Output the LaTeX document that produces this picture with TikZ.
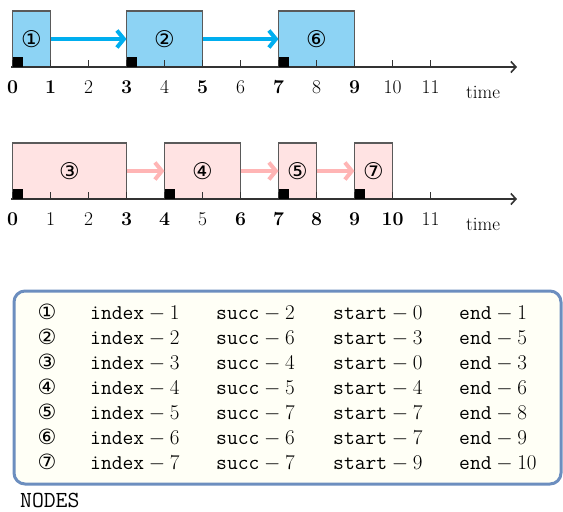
\RequirePackage{fix-cm}
\documentclass[tikz,border=0pt]{standalone}
\usepackage{fontspec}
\newfontfamily\circfont{DejaVu Sans}
\usetikzlibrary{arrows.meta}
\definecolor{boxblue}{HTML}{8DD3F4}
\definecolor{arrblue}{HTML}{00AEEF}
\definecolor{boxpink}{HTML}{FFE3E3}
\definecolor{arrpink}{HTML}{FFB5B5}
\definecolor{edgegray}{HTML}{5A5A5A}
\definecolor{axisgray}{HTML}{333333}
\definecolor{panelblue}{HTML}{6C8EBF}
\definecolor{panelfill}{HTML}{FFFFF6}
\tikzset{
  job/.style={draw=edgegray, line width=1.8pt, inner sep=0pt, outer sep=0pt,
    anchor=south west, minimum height=56pt, minimum width=#1*38pt,
    font=\circfont\fontsize{23}{26}\selectfont},
  bluejob/.style={job=#1, fill=boxblue},
  pinkjob/.style={job=#1, fill=boxpink},
  bluearr/.style={draw=arrblue, line width=4pt, -{Straight Barb[length=7pt,width=17pt]}},
  pinkarr/.style={draw=arrpink, line width=4pt, -{Straight Barb[length=7pt,width=17pt]}},
  axisline/.style={draw=axisgray, line width=1.6pt, -{Straight Barb[length=5pt,width=11pt]}},
  tickmark/.style={draw=axisgray, line width=1.6pt},
  startmark/.style={fill=black},
  tlabel/.style={anchor=base, inner sep=0pt, font=\fontsize{19.5}{23}\selectfont},
  timelabel/.style={anchor=base west, inner sep=0pt, font=\fontsize{19}{23}\selectfont},
  panel/.style={draw=panelblue, fill=panelfill, line width=3pt, rounded corners=11pt,
    minimum width=547pt, minimum height=193pt, inner sep=0pt},
  cell/.style={anchor=base west, inner sep=0pt, font=\fontsize{21}{25}\selectfont},
  circcell/.style={anchor=center, inner sep=0pt, font=\circfont\fontsize{21}{24}\selectfont},
  caption/.style={anchor=base west, inner sep=0pt, font=\ttfamily\fontsize{23}{26}\selectfont},
}
\begin{document}
\begin{tikzpicture}[x=1pt,y=-1pt]
\useasboundingbox (0,0) rectangle (563,512);
% ---------- top timeline ----------
\node[bluejob=1] (b1) at ({12.5+38*0},67) {①};
\node[bluejob=2] (b2) at ({12.5+38*3},67) {②};
\node[bluejob=2] (b6) at ({12.5+38*7},67) {⑥};
\draw[bluearr] (b1.east) -- (b2.west);
\draw[bluearr] (b2.east) -- (b6.west);
\coordinate (axAs) at (11,67);
\coordinate (axAe) at (517,67);
\draw[axisline] (axAs) -- (axAe);
\foreach \t in {0,...,11} \draw[tickmark] ({12.5+38*\t},67) -- ++(0,-7);
\foreach \b in {b1,b2,b6} \fill[startmark] (\b.south west) rectangle ++(10.5,-10);
\foreach \t/\w in {0/\bfseries,1/\bfseries,2/\mdseries,3/\bfseries,4/\mdseries,5/\bfseries,
                   6/\mdseries,7/\bfseries,8/\mdseries,9/\bfseries,10/\mdseries,11/\mdseries}
  \node[tlabel] (ta\t) at ({12.5+38*\t},93) {\w\t};
\node[timelabel] (timeA) at (466,98) {time};
% ---------- bottom timeline ----------
\node[pinkjob=3] (b3) at ({12.5+38*0},199) {③};
\node[pinkjob=2] (b4) at ({12.5+38*4},199) {④};
\node[pinkjob=1] (b5) at ({12.5+38*7},199) {⑤};
\node[pinkjob=1] (b7) at ({12.5+38*9},199) {⑦};
\draw[pinkarr] (b3.east) -- (b4.west);
\draw[pinkarr] (b4.east) -- (b5.west);
\draw[pinkarr] (b5.east) -- (b7.west);
\coordinate (axBs) at (11,199);
\coordinate (axBe) at (517,199);
\draw[axisline] (axBs) -- (axBe);
\foreach \t in {0,...,11} \draw[tickmark] ({12.5+38*\t},199) -- ++(0,-7);
\foreach \b in {b3,b4,b5,b7} \fill[startmark] (\b.south west) rectangle ++(10.5,-10);
\foreach \t/\w in {0/\bfseries,1/\mdseries,2/\mdseries,3/\bfseries,4/\bfseries,5/\mdseries,
                   6/\bfseries,7/\bfseries,8/\bfseries,9/\bfseries,10/\bfseries,11/\mdseries}
  \node[tlabel] (tb\t) at ({12.5+38*\t},225) {\w\t};
\node[timelabel] (timeB) at (466,230) {time};
% ---------- table ----------
\node[panel] (panel) at (287.5,387.5) {};
\foreach \r/\c/\i/\s/\st/\e in {0/①/1/2/0/1, 1/②/2/6/3/5, 2/③/3/4/0/3, 3/④/4/5/4/6,
                                 4/⑤/5/7/7/8, 5/⑥/6/6/7/9, 6/⑦/7/7/9/10}{
  \node[circcell] (n\r) at (47,{312+25*\r}) {\c};
  \node[cell] (i\r) at (90,{319+25*\r}) {$\texttt{index}-\i$};
  \node[cell] (s\r) at (216,{319+25*\r}) {$\texttt{succ}-\s$};
  \node[cell] (st\r) at (333,{319+25*\r}) {$\texttt{start}-\st$};
  \node[cell] (e\r) at (459,{319+25*\r}) {$\texttt{end}-\e$};
}
\node[caption] (cap) at (20,507) {NODES};
\end{tikzpicture}
\end{document}
